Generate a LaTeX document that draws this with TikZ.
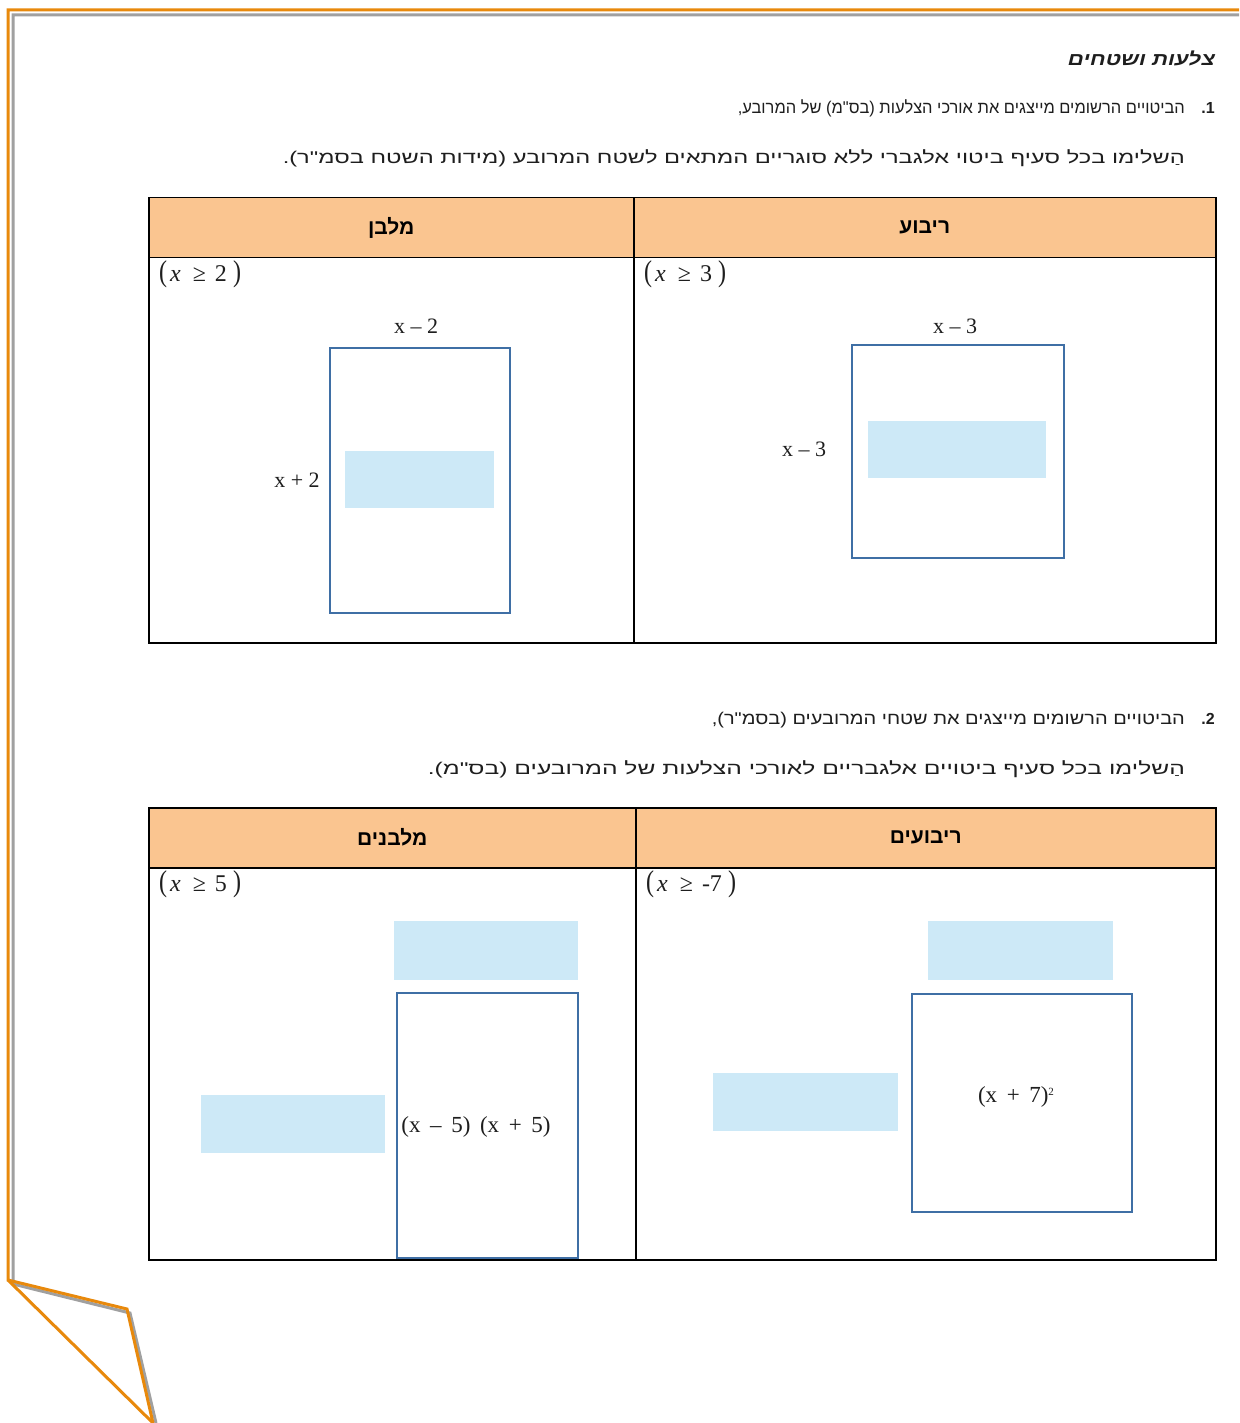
\documentclass[tikz,border=0pt]{standalone}
\usepackage{fontspec}
\setmainfont{Liberation Serif}
\newfontfamily\heb[Script=Hebrew]{Liberation Sans}
\newfontfamily\ser{Liberation Serif}
\TeXXeTstate=1
\definecolor{frameorange}{HTML}{E8890C}
\definecolor{framegray}{HTML}{A0A0A0}
\definecolor{hdrfill}{HTML}{FAC590}
\definecolor{boxblue}{HTML}{3F6FA5}
\definecolor{ansblue}{HTML}{CDE9F7}
\definecolor{txt}{HTML}{1E1E1E}
\tikzset{
  hebtxt/.style={font=\heb\fontsize{17}{20}\selectfont, text=txt, inner sep=0pt},
  qnum/.style={font=\heb\bfseries\fontsize{16}{19}\selectfont, text=txt, inner sep=0pt},
  hdrcell/.style={draw=black, line width=1.5pt, fill=hdrfill, anchor=north west, inner sep=0pt,
    font=\heb\bfseries\fontsize{21}{24}\selectfont},
  bodycell/.style={draw=black, line width=1.5pt, anchor=north west, inner sep=0pt},
  shapebox/.style={draw=boxblue, line width=1.6pt, anchor=north west, inner sep=0pt},
  ansbox/.style={fill=ansblue, anchor=north west, inner sep=0pt},
  lbl/.style={font=\ser\fontsize{22}{24}\selectfont, text=txt, inner sep=0pt},
  arealbl/.style={font=\ser\fontsize{23}{25}\selectfont, text=txt, inner sep=0pt},
  cond/.style={font=\ser\fontsize{24}{26}\selectfont, text=txt, inner sep=0pt, anchor=north west}
}
\newcommand\bparen[1]{\scalebox{1}[1.25]{#1}}
\newcommand\condtext[1]{\bparen{(}\hspace{3pt}\textit{x}\hspace{12pt}≥\hspace{9pt}#1\hspace{6pt}\bparen{)}}
\begin{document}
\begin{tikzpicture}[x=1pt,y=-1pt]
\useasboundingbox (0,0) rectangle (1239,1423);
\fill[white] (0,0) rectangle (1239,1423);
% page frame with folded corner
\draw[framegray, line width=3pt, line join=miter] (1239,15) -- (13,15) -- (13,1284) -- (130,1313) -- (156,1423);
\draw[frameorange, line width=3pt, line join=miter] (1239,10) -- (8,10) -- (8,1280) -- (127,1309) -- (153,1423);
\draw[frameorange, line width=3pt] (8,1280) -- (153,1423);

% heading
\node[font=\heb\bfseries\itshape\fontsize{18}{21}\selectfont, text=txt, inner sep=0pt, anchor=base east] (title) at (1215,66) {\resizebox{147pt}{\height}{\beginR צלעות ושטחים\endR}};

% question 1
\node[qnum, anchor=base east] (q1n) at (1215,114) {1.};
\node[hebtxt, anchor=base east] (q1a) at (1185,114) {\resizebox{447pt}{\height}{\beginR הביטויים הרשומים מייצגים את אורכי הצלעות (בס"מ) של המרובע,\endR}};
\node[hebtxt, anchor=base east] (q1b) at (1185,164) {\resizebox{902pt}{\height}{\beginR הַשלימו בכל סעיף ביטוי אלגברי ללא סוגריים המתאים לשטח המרובע (מידות השטח בסמ"ר).\endR}};

% table 1
\node[hdrcell, minimum width=485pt, minimum height=60pt] (h1l) at (148,197) {\beginR מלבן\endR};
\node[hdrcell, minimum width=582pt, minimum height=60pt] (h1r) at (633,197) {\beginR ריבוע\endR};
\node[bodycell, minimum width=485pt, minimum height=385pt] (b1l) at (148,257) {};
\node[bodycell, minimum width=582pt, minimum height=385pt] (b1r) at (633,257) {};

\node[cond] (c1l) at (159,260) {\condtext{2}};
\node[cond] (c1r) at (644,260) {\condtext{3}};

\node[shapebox, minimum width=180pt, minimum height=265pt] (r1) at (329,347) {};
\node[ansbox, minimum width=149pt, minimum height=57pt] (a1) at (345,451) {};
\node[lbl] (r1top) at (416,326) {x – 2};
\node[lbl] (r1side) at (297,480) {x + 2};

\node[shapebox, minimum width=212pt, minimum height=213pt] (s1) at (851,344) {};
\node[ansbox, minimum width=178pt, minimum height=57pt] (a2) at (868,421) {};
\node[lbl] (s1top) at (955,326) {x – 3};
\node[lbl] (s1side) at (804,449) {x – 3};

% question 2
\node[qnum, anchor=base east] (q2n) at (1215,724) {2.};
\node[hebtxt, anchor=base east] (q2a) at (1185,724) {\resizebox{473pt}{\height}{\beginR הביטויים הרשומים מייצגים את שטחי המרובעים (בסמ"ר),\endR}};
\node[hebtxt, anchor=base east] (q2b) at (1185,774) {\resizebox{757pt}{\height}{\beginR הַשלימו בכל סעיף ביטויים אלגבריים לאורכי הצלעות של המרובעים (בס"מ).\endR}};

% table 2
\node[hdrcell, minimum width=487pt, minimum height=60pt] (h2l) at (148,807) {\beginR מלבנים\endR};
\node[hdrcell, minimum width=580pt, minimum height=60pt] (h2r) at (635,807) {\beginR ריבועים\endR};
\node[bodycell, minimum width=487pt, minimum height=392pt] (b2l) at (148,867) {};
\node[bodycell, minimum width=580pt, minimum height=392pt] (b2r) at (635,867) {};

\node[cond] (c2l) at (159,870) {\condtext{5}};
\node[cond] (c2r) at (646,870) {\condtext{-7}};

\node[ansbox, minimum width=184pt, minimum height=59pt] (a3) at (394,921) {};
\node[shapebox, minimum width=181pt, minimum height=265pt] (r2) at (396,992) {};
\node[ansbox, minimum width=184pt, minimum height=58pt] (a4) at (201,1095) {};
\node[arealbl] (r2area) at (476,1127) {(x \,–\, 5)\, (x \,+\, 5)};

\node[ansbox, minimum width=185pt, minimum height=59pt] (a5) at (928,921) {};
\node[shapebox, minimum width=220pt, minimum height=218pt] (s2) at (911,993) {};
\node[ansbox, minimum width=185pt, minimum height=58pt] (a6) at (713,1073) {};
\node[arealbl] (s2area) at (1016,1097) {(x \,+\, 7)\raisebox{7pt}{\fontsize{11}{12}\selectfont 2}};
\end{tikzpicture}
\end{document}
